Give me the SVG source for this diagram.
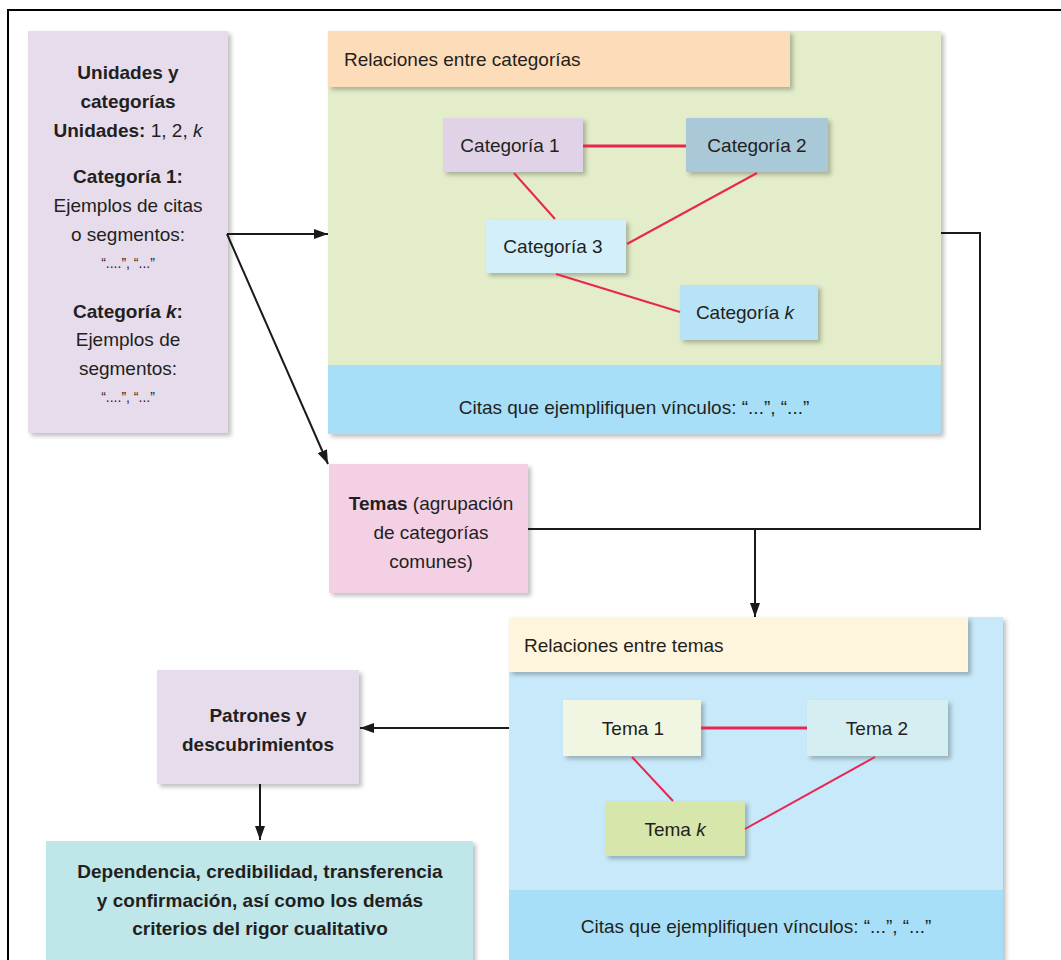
<svg xmlns="http://www.w3.org/2000/svg" width="1061" height="960" viewBox="0 0 1061 960">
<defs>
<filter id="sh" x="-10%" y="-10%" width="130%" height="130%">
<feDropShadow dx="3" dy="3" stdDeviation="2" flood-color="#000" flood-opacity="0.25"/>
</filter>
<marker id="ah" viewBox="0 0 14 10" refX="14" refY="5" markerWidth="14" markerHeight="10" markerUnits="userSpaceOnUse" orient="auto">
<path d="M0,0 L14,5 L0,10 z" fill="#1a1a1a"/>
</marker>
</defs>
<style>
text{font-family:"Liberation Sans",Arial,sans-serif;fill:#231f20;font-size:19px}
.c{text-anchor:middle}
.b{font-weight:bold}
.i{font-style:italic}
.q{font-size:14px}
.box{filter:url(#sh)}
.rel{stroke:#e8264f;stroke-width:2;fill:none}
.relh{stroke:#e8264f;stroke-width:3;fill:none}
.con{stroke:#1a1a1a;stroke-width:2;fill:none}
</style>
<rect x="0" y="0" width="1061" height="960" fill="#fff"/>
<path d="M1061,10 H8 V960" fill="none" stroke="#000" stroke-width="2"/>

<g id="unidades">
<rect class="box" x="28" y="31" width="200" height="402" fill="#e7dcec"/>
<text class="c b" x="128" y="79">Unidades y</text>
<text class="c b" x="128" y="108">categorías</text>
<text class="c" x="128" y="137"><tspan class="b">Unidades:</tspan> 1, 2, <tspan class="i">k</tspan></text>
<text class="c b" x="128" y="183">Categoría 1:</text>
<text class="c" x="128" y="212">Ejemplos de citas</text>
<text class="c" x="128" y="241">o segmentos:</text>
<text class="c q" x="128" y="268">“....”, “...”</text>
<text class="c b" x="128" y="318">Categoría <tspan class="i">k</tspan>:</text>
<text class="c" x="128" y="346">Ejemplos de</text>
<text class="c" x="128" y="375">segmentos:</text>
<text class="c q" x="128" y="402">“....”, “...”</text>
</g>

<g id="relaciones-categorias">
<rect class="box" x="328" y="31" width="613" height="403" fill="#e3edc9"/>
<rect x="328" y="365" width="613" height="69" fill="#a7dff8"/>
<rect class="box" x="328" y="31" width="462" height="56" fill="#fddcb9"/>
<text x="344" y="66">Relaciones entre categorías</text>
<text class="c" x="634" y="414">Citas que ejemplifiquen vínculos: “...”, “...”</text>
</g>

<g id="categoria-1">
<rect class="box" x="443" y="118" width="140" height="54" fill="#e1d3e7"/>
<text class="c" x="510" y="152">Categoría 1</text>
</g>
<g id="categoria-2">
<rect class="box" x="686" y="118" width="142" height="54" fill="#a9c8d8"/>
<text class="c" x="757" y="152">Categoría 2</text>
</g>
<g id="categoria-3">
<rect class="box" x="486" y="220" width="140" height="53" fill="#d3effa"/>
<text class="c" x="553" y="253">Categoría 3</text>
</g>
<g id="categoria-k">
<rect class="box" x="680" y="285" width="138" height="55" fill="#b7e3f8"/>
<text class="c" x="745" y="319">Categoría <tspan class="i">k</tspan></text>
</g>

<g id="temas">
<rect class="box" x="329" y="464" width="199" height="129" fill="#f3d0e4"/>
<text class="c" x="431" y="510"><tspan class="b">Temas</tspan> (agrupación</text>
<text class="c" x="431" y="539">de categorías</text>
<text class="c" x="431" y="568">comunes)</text>
</g>

<g id="relaciones-temas">
<rect class="box" x="509" y="617" width="494" height="343" fill="#c7e9f9"/>
<rect x="509" y="890" width="494" height="70" fill="#a8dff8"/>
<rect class="box" x="509" y="617" width="459" height="55" fill="#fff4dc"/>
<text x="524" y="652">Relaciones entre temas</text>
<text class="c" x="756" y="933">Citas que ejemplifiquen vínculos: “...”, “...”</text>
</g>

<g id="tema-1">
<rect class="box" x="563" y="700" width="138" height="56" fill="#f0f6e1"/>
<text class="c" x="633" y="735">Tema 1</text>
</g>
<g id="tema-2">
<rect class="box" x="807" y="700" width="141" height="56" fill="#d5eef2"/>
<text class="c" x="877" y="735">Tema 2</text>
</g>
<g id="tema-k">
<rect class="box" x="605" y="801" width="140" height="55" fill="#d7e6aa"/>
<text class="c" x="675" y="836">Tema <tspan class="i">k</tspan></text>
</g>

<g id="patrones">
<rect class="box" x="157" y="670" width="202" height="114" fill="#e6dcec"/>
<text class="c b" x="258" y="722">Patrones y</text>
<text class="c b" x="258" y="751">descubrimientos</text>
</g>

<g id="criterios">
<rect class="box" x="46" y="841" width="427" height="125" fill="#bfe6e9"/>
<text class="c b" x="260" y="878">Dependencia, credibilidad, transferencia</text>
<text class="c b" x="260" y="907">y confirmación, así como los demás</text>
<text class="c b" x="260" y="935">criterios del rigor cualitativo</text>
</g>

<g id="connectors">
<line class="relh" x1="583" y1="146" x2="686" y2="146"/>
<line class="rel" x1="514" y1="173" x2="555" y2="219"/>
<line class="rel" x1="757" y1="173" x2="627" y2="244"/>
<line class="rel" x1="556" y1="274" x2="680" y2="312"/>
<line class="relh" x1="701" y1="728" x2="807" y2="728"/>
<line class="rel" x1="632" y1="757" x2="673" y2="801"/>
<line class="rel" x1="875" y1="757" x2="745" y2="829"/>
<line class="con" x1="227" y1="234" x2="328" y2="234" marker-end="url(#ah)"/>
<line class="con" x1="227" y1="234" x2="328" y2="464" marker-end="url(#ah)"/>
<path class="con" d="M941,233 H980 V529 H528"/>
<line class="con" x1="755" y1="529" x2="755" y2="617" marker-end="url(#ah)"/>
<line class="con" x1="509" y1="728" x2="360" y2="728" marker-end="url(#ah)"/>
<line class="con" x1="260" y1="784" x2="260" y2="840" marker-end="url(#ah)"/>
</g>
</svg>
